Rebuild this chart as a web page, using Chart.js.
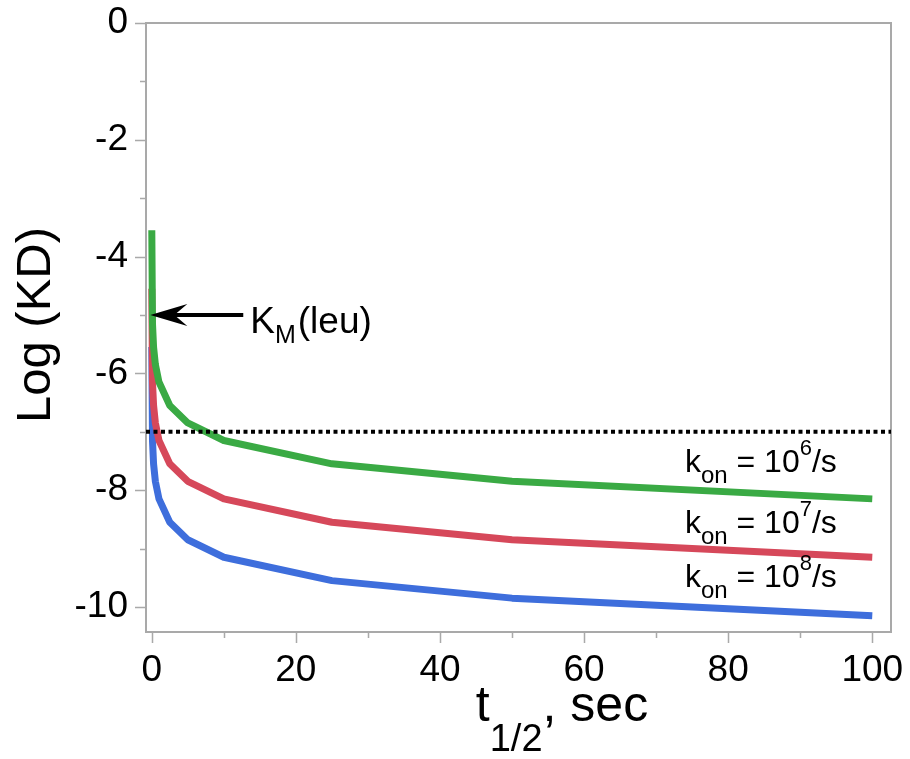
<!DOCTYPE html>
<html>
<head>
<meta charset="utf-8">
<script src="https://cdn.jsdelivr.net/npm/chart.js@4.4.0/dist/chart.umd.min.js"></script>
<style>
  html, body { margin: 0; padding: 0; background: #fff; }
</style>
</head>
<body>
<canvas id="chart" width="910" height="759"></canvas>
<script>
// half-life (sec) and log KD for three association rates
const tHalf = [0.005, 0.1, 0.25, 0.5, 1, 2.5, 5, 10, 25, 50, 100];
const logKdKon6 = [-3.55, -5.15, -5.55, -5.85, -6.15, -6.55, -6.85, -7.15, -7.55, -7.85, -8.15];
const logKdKon7 = [-4.55, -6.15, -6.55, -6.85, -7.15, -7.55, -7.85, -8.15, -8.55, -8.85, -9.15];
const logKdKon8 = [-5.55, -7.15, -7.55, -7.85, -8.15, -8.55, -8.85, -9.15, -9.55, -9.85, -10.15];

const kmLeu = -5;      // K_M(leu) arrow level
const cutoff = -7;     // dotted line
const xRange = [-0.8, 102.6];
const yRange = [-10.43, 0];
const xTicks = [0, 10, 20, 30, 40, 50, 60, 70, 80, 90, 100];
const yTicks = [0, -1, -2, -3, -4, -5, -6, -7, -8, -9, -10];
const konLabels = ['6', '7', '8'];
const konLabelX = 74.0;
const konLabelY = [-7.69, -8.74, -9.66];

const FONT = '"Liberation Sans", Arial, sans-serif';
const AXIS_GREY = '#a9a9a9';

function toPoints(xs, ys) {
    return xs.map((x, i) => ({ x: x, y: ys[i] }));
}

// no extra room for overflowing tick labels, keep the plot box fixed
function fixBox(scale, w, h) {
    if (w) scale.width = w;
    if (h) scale.height = h;
    scale.paddingLeft = 0;
    scale.paddingRight = 0;
    scale.paddingTop = 0;
    scale.paddingBottom = 0;
}

// frame + tick marks (major long, minor short)
const frame = {
    id: 'frame',
    beforeDatasetsDraw(chart) {
        const { ctx, chartArea: a, scales: { x, y } } = chart;
        ctx.save();
        ctx.strokeStyle = AXIS_GREY;
        ctx.lineWidth = 2;
        ctx.strokeRect(a.left, a.top, a.right - a.left, a.bottom - a.top);
        ctx.beginPath();
        yTicks.forEach(v => {
            const py = Math.round(y.getPixelForValue(v)) + 0.5;
            const len = v % 2 === 0 ? 11 : 6;
            ctx.moveTo(a.left, py);
            ctx.lineTo(a.left - len, py);
        });
        xTicks.forEach(v => {
            const px = Math.round(x.getPixelForValue(v)) + 0.5;
            const len = v % 20 === 0 ? 11 : 6;
            ctx.moveTo(px, a.bottom);
            ctx.lineTo(px, a.bottom + len);
        });
        ctx.lineWidth = 1.5;
        ctx.stroke();
        ctx.restore();
    }
};

// arrow, curve labels, axis titles
const notes = {
    id: 'notes',
    afterDatasetsDraw(chart) {
        const { ctx, scales: { x, y } } = chart;
        ctx.save();
        ctx.fillStyle = '#000';
        ctx.strokeStyle = '#000';

        // K_M(leu) arrow
        const ay = y.getPixelForValue(kmLeu);
        const tipX = x.getPixelForValue(-0.2);
        const tailX = x.getPixelForValue(12.7);
        ctx.lineWidth = 4;
        ctx.beginPath();
        ctx.moveTo(tailX, ay);
        ctx.lineTo(tipX + 20, ay);
        ctx.stroke();
        ctx.beginPath();
        ctx.moveTo(tipX, ay);
        ctx.lineTo(tipX + 37, ay - 11);
        ctx.lineTo(tipX + 24, ay);
        ctx.lineTo(tipX + 37, ay + 11);
        ctx.closePath();
        ctx.fill();

        ctx.textBaseline = 'alphabetic';
        ctx.textAlign = 'left';
        let tx = tailX + 7;
        const ty = ay + 18;
        ctx.font = '37px ' + FONT;
        ctx.fillText('K', tx, ty);
        tx += ctx.measureText('K').width;
        ctx.font = '25px ' + FONT;
        ctx.fillText('M', tx, ty + 10);
        tx += ctx.measureText('M').width + 2;
        ctx.font = '37px ' + FONT;
        ctx.fillText('(leu)', tx, ty);

        // k_on labels
        konLabels.forEach((p, i) => {
            let lx = x.getPixelForValue(konLabelX);
            const ly = y.getPixelForValue(konLabelY[i]);
            ctx.font = '32px ' + FONT;
            ctx.fillText('k', lx, ly);
            lx += ctx.measureText('k').width;
            ctx.font = '24px ' + FONT;
            ctx.fillText('on', lx, ly + 11);
            lx += ctx.measureText('on').width;
            ctx.font = '32px ' + FONT;
            ctx.fillText(' = 10', lx, ly);
            lx += ctx.measureText(' = 10').width;
            ctx.font = '22px ' + FONT;
            ctx.fillText(p, lx, ly - 17);
            lx += ctx.measureText(p).width;
            ctx.font = '32px ' + FONT;
            ctx.fillText('/s', lx, ly);
        });

        // x title: t_1/2, sec
        const parts = [['t', 50, 0], ['1/2', 38, 30], [', sec', 50, 0]];
        let total = 0;
        parts.forEach(pp => { ctx.font = pp[1] + 'px ' + FONT; total += ctx.measureText(pp[0]).width; });
        let px = 562 - total / 2;
        parts.forEach(pp => {
            ctx.font = pp[1] + 'px ' + FONT;
            ctx.fillText(pp[0], px, 721 + pp[2]);
            px += ctx.measureText(pp[0]).width;
        });

        // y title
        ctx.translate(50, 325);
        ctx.rotate(-Math.PI / 2);
        ctx.textAlign = 'center';
        ctx.font = '49px ' + FONT;
        ctx.fillText('Log (KD)', 0, 0);
        ctx.restore();
    }
};

Chart.defaults.font.family = FONT;
Chart.defaults.color = '#000';

new Chart(document.getElementById('chart'), {
    type: 'line',
    data: {
        datasets: [
            {
                data: toPoints(xRange, [cutoff, cutoff]),
                borderColor: '#000',
                borderWidth: 4,
                borderDash: [4, 3.5],
                pointRadius: 0
            },
            {
                data: toPoints(tHalf, logKdKon6),
                borderColor: 'rgb(58, 170, 68)',
                borderWidth: 7,
                pointRadius: 0
            },
            {
                data: toPoints(tHalf, logKdKon7),
                borderColor: 'rgb(214, 72, 90)',
                borderWidth: 7,
                pointRadius: 0
            },
            {
                data: toPoints(tHalf, logKdKon8),
                borderColor: 'rgb(62, 110, 220)',
                borderWidth: 7,
                pointRadius: 0
            }
        ]
    },
    options: {
        responsive: false,
        animation: false,
        layout: { padding: { top: 23, right: 19, left: 0, bottom: 0 } },
        plugins: { legend: { display: false }, tooltip: { enabled: false } },
        elements: { line: { tension: 0, borderCapStyle: 'butt', borderJoinStyle: 'round' } },
        scales: {
            x: {
                type: 'linear',
                min: xRange[0],
                max: xRange[1],
                grid: { display: false, drawTicks: false },
                border: { display: false },
                ticks: {
                    stepSize: 10,
                    includeBounds: false,
                    autoSkip: false,
                    maxRotation: 0,
                    padding: 17,
                    font: { size: 37 },
                    callback: v => (v % 20 === 0 ? v : '')
                },
                afterFit(scale) { fixBox(scale, 0, 127); }
            },
            y: {
                type: 'linear',
                min: yRange[0],
                max: yRange[1],
                grid: { display: false, drawTicks: false },
                border: { display: false },
                ticks: {
                    stepSize: 1,
                    includeBounds: false,
                    autoSkip: false,
                    padding: 18,
                    font: { size: 37 },
                    callback: v => (v % 2 === 0 ? v : '')
                },
                afterFit(scale) { fixBox(scale, 146, 0); }
            }
        }
    },
    plugins: [frame, notes]
});
</script>
</body>
</html>
